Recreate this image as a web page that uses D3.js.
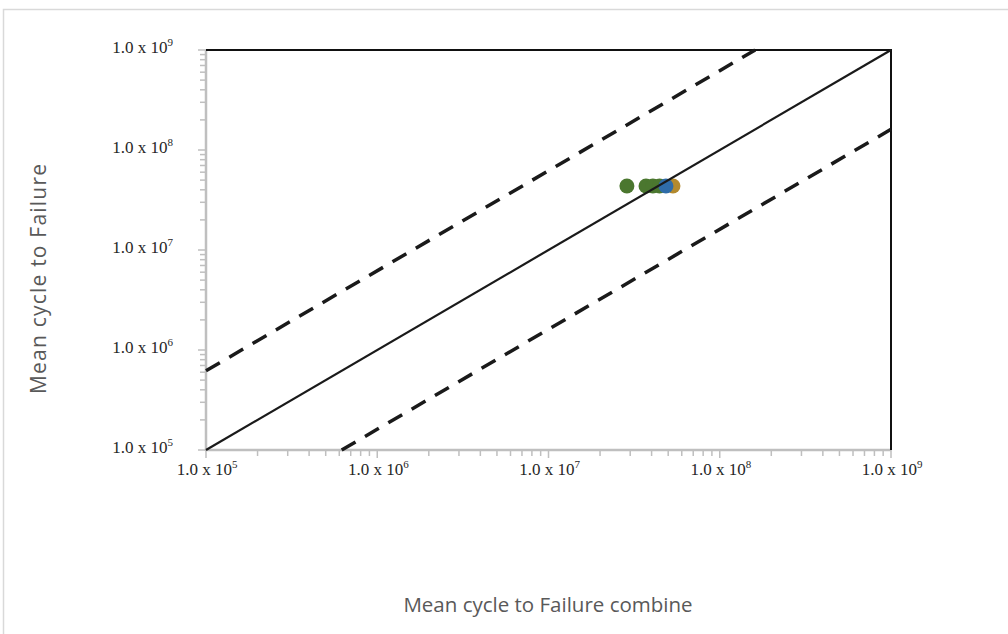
<!DOCTYPE html>
<head>
<meta charset="utf-8" />
<script src="https://d3js.org/d3.v7.min.js"></script>
<style>
    body { margin: 0; background: #fff; }
    svg { display: block; }
</style>
</head>
<body>
<div id="chart"></div>
<script>
    // decades on both axes
    var decades = [5, 6, 7, 8, 9];
    // measured points (x = combine, y = mean cycle to failure)
    var pointX = [2.87e7, 3.71e7, 4.07e7, 4.45e7, 5.33e7, 4.85e7];
    var pointY = [4.37e7, 4.37e7, 4.37e7, 4.37e7, 4.37e7, 4.37e7];
    var pointGroup = ["g", "g", "g", "g", "o", "b"];
    // reference lines: [x0, y0, x1, y1]
    var lineSolid = [1e5, 1e5, 1e9, 1e9];
    var lineUpper = [1e5, 6.2e5, 1.61e8, 1e9];
    var lineLower = [6.2e5, 1e5, 1e9, 1.61e8];

    var width = 1008, height = 634;
    var svg = d3.select("#chart").append("svg")
        .attr("width", width).attr("height", height);

    // outer frame
    svg.append("rect").attr("x", 3.5).attr("y", 9.5)
        .attr("width", width).attr("height", height)
        .attr("fill", "none").attr("stroke", "#d9d9d9").attr("stroke-width", 1.5);

    var x = d3.scaleLog().domain([1e5, 1e9]).range([206, 891]);
    var y = d3.scaleLog().domain([1e5, 1e9]).range([450, 50]);

    var minor = [];
    decades.forEach(function(d) {
        if (d < 9) for (var k = 2; k < 10; k++) minor.push(k * Math.pow(10, d));
    });
    var major = decades.map(function(d) { return Math.pow(10, d); });

    // ticks
    var tickColor = "#bfbfbf";
    svg.append("g").selectAll("line").data(minor.concat(major)).join("line")
        .attr("x1", 206).attr("x2", function(d) { return major.indexOf(d) >= 0 ? 198 : 200; })
        .attr("y1", function(d) { return y(d); }).attr("y2", function(d) { return y(d); })
        .attr("stroke", tickColor).attr("stroke-width", 1.5);
    svg.append("g").selectAll("line").data(minor.concat(major)).join("line")
        .attr("y1", 450).attr("y2", function(d) { return major.indexOf(d) >= 0 ? 458 : 456; })
        .attr("x1", function(d) { return x(d); }).attr("x2", function(d) { return x(d); })
        .attr("stroke", tickColor).attr("stroke-width", 1.5);

    // frame of plot: gray left/bottom, black top/right
    svg.append("line").attr("x1", 206).attr("x2", 206).attr("y1", 50).attr("y2", 451)
        .attr("stroke", tickColor).attr("stroke-width", 2.5);
    svg.append("line").attr("x1", 205).attr("x2", 891).attr("y1", 450).attr("y2", 450)
        .attr("stroke", tickColor).attr("stroke-width", 2.5);
    svg.append("line").attr("x1", 206).attr("x2", 892).attr("y1", 50).attr("y2", 50)
        .attr("stroke", "#111").attr("stroke-width", 2);
    svg.append("line").attr("x1", 891).attr("x2", 891).attr("y1", 50).attr("y2", 450)
        .attr("stroke", "#111").attr("stroke-width", 2);

    // points
    var colors = { g: "#4b772f", b: "#2f6ca8", o: "#b38a2e" };
    var pts = pointX.map(function(v, i) { return { x: v, y: pointY[i], g: pointGroup[i] }; });
    svg.append("g").selectAll("circle").data(pts).join("circle")
        .attr("cx", function(d) { return x(d.x); })
        .attr("cy", function(d) { return y(d.y); })
        .attr("r", 7.5)
        .attr("fill", function(d) { return colors[d.g]; });

    // reference lines
    function refLine(l, dash) {
        svg.append("line")
            .attr("x1", x(l[0])).attr("y1", y(l[1]))
            .attr("x2", x(l[2])).attr("y2", y(l[3]))
            .attr("stroke", "#1a1a1a").attr("stroke-width", dash ? 3.5 : 2.2)
            .attr("stroke-dasharray", dash ? "16,11" : null);
    }
    refLine(lineSolid, false);
    refLine(lineUpper, true);
    refLine(lineLower, true);

    // tick labels
    function label(sel) {
        sel.append("tspan").text("1.0 x 10");
        sel.append("tspan").attr("font-size", "11px").attr("dy", "-7")
            .text(function(d) { return d; });
    }
    svg.append("g").selectAll("text").data(decades).join("text")
        .attr("x", 173).attr("y", function(d) { return y(Math.pow(10, d)) + 3; })
        .attr("text-anchor", "end")
        .attr("font-family", "Liberation Serif, serif").attr("font-size", "17px")
        .attr("fill", "#262626")
        .call(label);
    svg.append("g").selectAll("text").data(decades).join("text")
        .attr("x", function(d) { return x(Math.pow(10, d)) + 1; }).attr("y", 475)
        .attr("text-anchor", "middle")
        .attr("font-family", "Liberation Serif, serif").attr("font-size", "17px")
        .attr("fill", "#262626")
        .call(label);

    // axis titles
    svg.append("text")
        .attr("transform", "translate(46,279) rotate(-90)")
        .attr("text-anchor", "middle")
        .attr("font-family", "Open Sans, sans-serif").attr("font-size", "21px")
        .attr("textLength", 230)
        .attr("fill", "#595959")
        .text("Mean cycle to Failure");
    svg.append("text")
        .attr("x", 548).attr("y", 612)
        .attr("text-anchor", "middle")
        .attr("font-family", "Open Sans, sans-serif").attr("font-size", "20.5px")
        .attr("fill", "#595959")
        .text("Mean cycle to Failure combine");
</script>
</body>
